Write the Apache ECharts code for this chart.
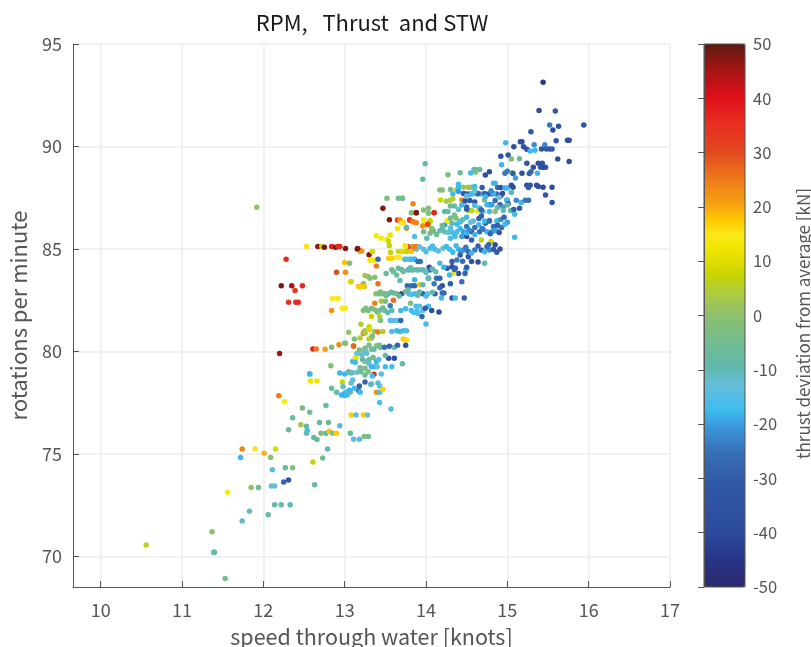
<!DOCTYPE html>
<html><head><meta charset="utf-8">
<style>html,body{margin:0;padding:0;background:#fff}#c{width:811px;height:647px}</style>
<script src="https://cdn.jsdelivr.net/npm/echarts@6/dist/echarts.min.js"></script></head>
<body><div id="c"></div>
<script>
const xTicks=[10,11,12,13,14,15,16,17];
const yTicks=[70,75,80,85,90,95];
const barTicks=[-50,-40,-30,-20,-10,0,10,20,30,40,50];
const palette=['#2a2a6e','#2a2e78','#263488','#2a4092','#2d4a9c','#2e4ea0','#2f52a2','#3056a4','#325ca8','#3466ae','#3672b8','#3a86cc','#3c9ce0','#3cbcee','#52bde4','#68c0d6','#5fb8b2','#68ba9e','#72bc90','#7ebe7e','#8cc06e','#a0c654','#b4ce30','#c8d400','#e0dc00','#f2e600','#fbe81a','#ffc800','#f8a810','#f29014','#ee7a18','#e8621c','#e24a20','#e63c20','#e83020','#e62020','#e0101a','#c41218','#a81414','#841812','#5e1a10'];

const speedA=[15.44,15.39,15.59,15.52,15.63,15.56,15.94,15.29,15.6,15.74,15.76,14.98,15.16,15.18,15.33,15.46];
const rpmA=[93.13,91.75,91.73,91.05,90.98,90.8,91.05,90.72,90.28,90.3,90.3,90.18,90.23,90.23,90.08,90.08];
const thrustA=[-44,-38,-32,-24,-35,-38,-34,-32,-32,-36,-36,-18,-38,-36,-22,-22];
const speedB=[15.08,15.2,15.24,15.28,15.34,15.42,15.48,15.52,15.55,14.92,15.01,15.05,15.15,15.24,15.62,15.76,14.93,15.38,15.43];
const rpmB=[89.99,89.99,89.86,89.78,89.81,89.88,89.88,89.88,89.88,89.52,89.58,89.39,89.4,89.18,89.39,89.26,89.11,89.18,89.18];
const thrustB=[-36,-38,-36,-18,-18,-34,-30,-32,-30,-36,-32,-2,-6,-32,-36,-38,-18,-38,-36];
const speedC=[15.32,15.41,15.44,15.47,15.0,14.97,15.06,15.07,14.78,14.73,15.18,15.29,15.27,15.37,15.1,14.61,14.66,14.59,14.61,14.55,14.42,14.27,13.99,13.96,13.71,13.84];
const rpmC=[88.99,88.99,88.99,88.99,88.79,88.69,88.72,88.68,88.76,88.61,88.69,88.77,88.68,88.69,88.46,88.88,88.88,88.88,88.75,88.71,88.72,88.62,89.16,88.4,87.47,87.2];
const thrustC=[-36,-36,-38,-36,-24,-24,-2,-30,-38,-36,-36,-26,-28,-18,-20,-9,-9,-8,-3,-17,-6,-3,-9,-8,-7,24];
const speedD=[14.4,14.46,14.52,14.56,14.6,14.69,14.83,14.85,14.88,14.92,14.97,15.0,15.05,15.07,15.24,15.28,15.26,15.36,15.38,15.44,15.55,14.17,14.2,14.3,14.37,14.4];
const rpmD=[88.15,88.01,88.01,88.01,88.05,88.0,88.2,88.2,88.0,88.0,87.97,87.97,88.11,88.01,88.11,88.11,88.0,88.11,88.05,88.01,88.01,87.88,87.88,87.9,87.88,88.01];
const thrustD=[-17,2,3,0,-17,-30,-18,-18,-26,-36,-19,-18,-36,-38,-38,-36,-30,-38,-36,-38,-38,-3,-2,-5,6,-17];
const speedE=[14.33,14.44,14.18,14.25,14.3,14.33,14.49,14.53,14.56,14.63,14.68,14.77,14.82,14.87,14.92,15.0,15.05,15.11,15.17,15.22,15.26,15.47,15.55];
const rpmE=[87.68,87.39,87.39,87.33,87.37,87.45,87.68,87.68,87.68,87.68,87.68,87.68,87.68,87.68,87.6,87.37,87.75,87.37,87.27,87.37,87.37,87.63,87.27];
const thrustE=[-17,23,8,3,4,5,-28,-30,-17,-11,-11,-30,-26,-28,-38,-18,-10,-22,-18,-24,-26,-34,-34];
const speedF=[13.88,13.8,13.84,13.88,13.97,14.05,13.97,14.03,13.7,13.76,14.27,14.1];
const rpmF=[86.77,86.41,86.33,86.28,86.41,86.38,86.17,86.17,86.3,86.01,86.36,86.77];
const thrustF=[47,30,25,24,13,8,15,8,7,23,15,28];
const speedG=[13.86,13.97,14.05,14.09,14.17,14.23,14.31,14.38,14.46,14.56,14.66,14.75,14.81,14.87,14.23,14.32,14.42,14.5,14.73,14.78,14.83];
const rpmG=[85.6,85.84,85.76,85.88,85.88,85.84,85.84,85.84,85.84,85.84,85.84,85.84,85.84,85.88,86.17,86.25,86.33,86.09,86.25,86.38,86.09];
const thrustG=[-15,-4,-3,-7,-8,-11,-17,-16,-20,-28,-26,-18,-22,-17,-20,-8,-10,-24,-28,-34,-26];
const speedH=[14.01,14.3,14.36,14.44,14.5,14.56,14.68,14.8,14.85,14.77];
const rpmH=[85.52,85.52,85.6,85.6,85.6,85.44,85.44,85.36,85.2,85.2];
const thrustH=[-10,-16,-14,-20,-36,-30,6,8,-38,-28];
const speedI=[13.74,13.78,13.86,13.7,13.76,13.82,13.88,13.97,14.05,14.11,14.21,14.29,14.4,14.46,14.52,14.6,14.68,14.78,14.83,14.91];
const rpmI=[85.16,85.1,85.07,84.87,84.87,84.87,84.98,84.98,85.03,84.98,85.03,84.98,84.98,84.95,84.87,84.95,84.95,84.95,84.98,85.0];
const thrustI=[14,35,32,14,12,18,-12,-14,-17,-17,-12,-17,-18,-22,-26,-24,-30,-22,-32,-34];
const speedJ=[13.74,13.8,13.86,13.93,14.32,14.38,14.52,14.56,14.64,14.72,14.17];
const rpmJ=[84.49,84.49,84.49,84.38,84.38,84.46,84.62,84.38,84.36,84.3,84.3];
const thrustJ=[-18,-18,-17,-24,-30,-24,-32,-34,-38,-9,-16];
const speedK=[13.78,13.84,13.9,13.97,14.04,14.05,14.32,14.36,14.26,14.4,14.34,14.49,14.22,14.29,14.13,14.03,14.17,14.2];
const rpmK=[83.97,83.97,83.97,83.97,84.1,83.97,84.13,84.05,84.05,83.8,83.8,84.0,84.1,83.73,83.57,83.57,83.57,83.2];
const thrustK=[-10,-8,-8,-10,-36,-26,-36,-32,-34,-38,14,-17,-18,-18,-26,-30,-28,-36];
const speedM=[13.52,13.66,13.71,13.47,13.55,13.65,13.68,13.72,13.7,13.8,13.84,13.65,13.76,13.82,13.88,13.97,14.03,14.03,14.1,13.97,14.05,13.96,14.02,14.07];
const rpmM=[87.47,87.47,87.47,86.99,86.42,86.41,86.41,86.3,86.25,86.41,86.33,86.0,86.06,86.77,86.77,86.9,86.98,86.74,86.77,86.42,86.33,86.12,86.2,86.0];
const thrustM=[-3,-6,-5,48,48,34,22,17,15,35,24,13,-9,-2,48,-1,-2,-3,37,14,7,23,31,-2];
const speedN=[13.39,13.45,13.52,13.56,13.54,13.55,13.155,13.19,13.21,13.3,13.34,13.565,13.66,13.7,13.76,13.75,13.84,13.88];
const rpmN=[85.64,85.52,85.47,85.68,85.36,85.15,85.0,84.9,84.9,84.71,84.87,84.82,84.87,84.87,84.87,85.12,85.12,85.12];
const thrustN=[13,14,14,12,8,7,48,24,22,47,9,7,9,10,7,15,24,25];
const speedO=[13.31,13.36,13.41,13.39,13.54,13.58,13.64,13.68,13.76,13.82,13.86,13.9,13.25,13.29,13.37,13.31,13.07,13.23,13.19,13.24,13.41,13.51,13.58,13.7,13.64,13.78,13.88,13.94,13.82];
const rpmO=[84.45,84.45,84.5,84.17,84.55,84.55,84.58,84.58,84.5,84.5,84.5,84.38,83.7,83.65,83.62,83.57,83.4,83.3,83.16,83.16,83.3,83.8,83.98,84.0,83.73,83.98,83.98,83.98,83.98];
const thrustO=[14,14,-28,25,17,17,15,15,-15,-17,-17,-26,3,1,0,-2,13,-3,22,18,26,-8,-7,-8,-6,-10,-9,-10,-10];
const speedP=[13.68,13.86,13.77,13.82,13.86,13.92,13.78,13.96,14.03,14.1,14.17,14.22];
const rpmP=[83.46,83.49,83.2,83.2,83.2,83.25,83.0,83.25,83.57,83.3,83.1,82.85];
const thrustP=[-11,-18,-26,-26,-28,18,-9,-10,-9,-24,-28,-30];
const speedQ=[13.385,13.43,13.47,13.495,13.54,13.6,13.64,13.7,13.79,13.82,13.865,13.96,14.02,14.11,14.19,14.2,14.32,14.36];
const rpmQ=[82.81,82.81,82.81,82.81,82.81,82.85,82.81,82.81,82.81,82.78,82.81,82.81,82.81,82.81,82.6,82.85,82.6,82.6];
const thrustQ=[-1,-4,-3,-6,-5,-5,-6,-38,-17,-15,-17,-30,-13,-32,-17,-26,-32,-17];
const speedR=[13.37,13.45,13.5,13.6,13.56,13.81,13.23,13.29,13.33,13.37,13.43,13.495,13.58,13.69,13.82,13.88,13.92,13.89,13.96,14.07,14.16,14.03,13.95,13.9];
const rpmR=[82.35,82.44,82.44,82.5,82.22,82.35,82.0,82.0,82.1,82.03,82.0,82.0,82.0,82.0,82.0,82.2,82.2,81.95,82.0,82.0,81.92,82.2,81.7,81.85];
const thrustR=[24,4,-3,26,-24,-2,-2,-3,-4,-2,-6,-8,-9,-17,-18,-17,-14,-17,-14,-36,-40,-17,-28,-16];
const speedS=[13.33,13.43,13.44,13.56,13.6,13.64,13.69,14.0,13.2,13.05,13.12,13.19,13.24,13.25,13.3,13.31,13.37,13.41,13.47,13.23,13.58,13.64,13.68,13.72,13.76,13.72,13.76,13.33];
const rpmS=[81.7,81.7,81.5,81.5,81.5,81.5,81.5,81.33,81.32,80.93,80.6,80.65,80.97,81.0,81.2,81.05,80.97,80.94,80.97,80.87,80.97,81.0,80.97,81.0,81.0,80.6,80.55,80.65];
const thrustS=[7,6,-3,-15,-14,-14,-28,-17,5,1,-2,5,1,3,8,10,3,25,5,24,-15,-17,-18,-16,-16,17,16,-8];
const speedT=[13.0,13.11,13.39,13.43,13.44,13.49,13.55,13.61,13.65,13.75,13.18,13.24,13.25,13.33,13.15,13.21,13.27,13.14,13.1];
const rpmT=[80.4,80.27,80.27,80.3,80.19,80.2,80.25,80.19,80.3,80.3,80.07,80.07,80.15,80.1,79.9,79.83,79.9,79.67,79.5];
const thrustT=[-5,24,-3,-3,-5,-26,-28,-9,-28,-36,-3,-2,-1,-3,-14,-12,-13,11,-18];
const speedU=[13.54,13.61,13.5,13.71,13.25,13.13,13.13,13.39,13.19,13.25,13.29,13.33,13.37,13.4,13.5,13.58,13.36,13.05,13.08,13.15,13.25,13.0];
const rpmU=[79.66,79.66,79.8,79.39,79.5,79.67,79.47,79.5,79.2,79.17,79.0,79.25,79.25,79.25,79.25,79.25,78.88,79.0,78.95,78.98,78.85,78.9];
const thrustU=[-38,-36,-9,-7,0,12,-17,-18,-5,-4,-2,-18,-18,-12,-17,-17,37,-10,-9,-12,-5,-17];
const speedV=[12.97,13.25,13.33,13.41,13.43,13.18,13.17,13.19,13.39,13.43,13.47,13.07,13.0,13.0,13.43,13.57,13.1,12.98,13.02];
const rpmV=[78.5,78.5,78.41,78.45,78.31,78.31,78.09,78.0,78.0,78.0,78.15,78.0,77.95,77.85,77.5,77.19,78.6,78.27,78.0];
const thrustV=[8,-28,-16,-15,-14,-28,-25,-18,22,-15,17,-1,-17,-17,-15,-15,-14,-12,-16];
const speedW=[13.08,13.14,13.23,13.28,13.07,13.11,13.18,13.24,13.29];
const rpmW=[76.9,76.9,76.9,76.9,76,75.71,75.71,75.84,75.84];
const thrustW=[17,-14,17,-13,-8,-14,-15,-2,-4];
const speedX=[12.57,12.94,13.05,13.09,12.58,12.66,12.84,12.9,12.96,13.0,13.03,12.19,12.26,12.77,12.48,12.57,12.36,12.46,12.53,12.69,12.8,12.94,12.31,12.53,12.54,12.71,12.77,12.81,12.85,12.9,12.62,12.66];
const rpmX=[78.9,78.94,78.98,78.95,78.55,78.55,78.2,78,77.87,77.87,77.87,77.83,77.54,77.36,77.23,77.03,76.76,76.42,76.34,76.53,76.53,76.37,76.17,76,76.14,76,76,76.1,76,76,75.8,75.7];
const thrustX=[-18,-18,-9,-11,12,12,-8,-9,-18,-18,-17,25,15,-8,-4,-6,-7,3,-7,-8,-7,-15,-6,-6,-17,-3,-7,18,-2,17,-8,-8];
const speedY=[12.79,11.74,11.9,12.01,12.15,11.72,12.09,12.73,12.61,12.11,12.27,12.36,12.25,12.31,12.63,12.1,12.14,11.85,11.94];
const rpmY=[75.23,75.23,75.23,75.03,75.23,74.82,74.82,74.79,74.6,74.22,74.32,74.32,73.62,73.72,73.49,73.43,73.43,73.36,73.36];
const thrustY=[-10,24,14,19,9,-18,-1,-4,7,-14,-8,-2,-28,-34,-8,-12,-12,1,-6];
const speedZ=[11.56,12.14,12.22,12.33,11.83,12.06,11.74,11.37,10.56,11.39,11.4,11.53];
const rpmZ=[73.12,72.51,72.51,72.51,72.2,72.03,71.72,71.2,70.55,70.2,70.2,68.92];
const thrustZ=[14,-9,-9,-10,-11,-10,-11,0,6,-9,-9,-4];
const speedAA=[11.92,12.53,12.67,12.72,12.75,12.84,12.89,12.94,12.92,13.01,13.16,12.28,13.0,13.06,12.9,13.01,13.08,12.22,12.35,12.48,12.39,12.31,12.4,12.43,13.17,13.2,12.85,12.91,12.92,12.84,12.97,13.01,12.2,12.61,12.65,12.76,12.84,12.93,13.01,13.11,12.83,12.57];
const rpmAA=[87.03,85.12,85.12,85.12,85.08,85.12,85.08,85.12,85.12,85.02,85.02,84.5,84.34,84.3,83.86,83.86,83.41,83.2,83.2,83.2,82.97,82.4,82.4,82.4,83.16,83.16,82.58,82.58,82.58,82,82.1,82.1,79.9,80.11,80.11,80.1,80.2,80.32,80.4,80.25,79.3,78.9];
const thrustAA=[1,14,47,8,49,38,49,37,36,48,48,36,18,-2,30,23,9,48,45,36,33,35,36,36,18,17,15,15,15,22,15,15,46,38,25,21,-2,23,0,27,-2,-18];
const speedAB=[14.46,14.58,14.64,14.72,14.83,14.94,14.48,14.54,14.6,14.72,14.85,14.99,14.78,14.91,15.01,14.95,14.52,14.56,14.63,14.7,14.78,14.85,14.95,15.04,15.15,14.23,14.27,14.35,14.26,14.58,14.72,14.78,14.87,14.35,14.37,14.42,15.09,15.09,14.5,14.66,14.81];
const rpmAB=[87.71,87.71,87.71,87.71,87.71,87.71,87.34,87.36,87.29,87.39,87.36,87.39,87.15,87.15,87.2,87.05,86.87,86.87,86.85,86.82,86.82,86.82,86.87,86.87,86.98,86.82,86.82,87.1,86.37,86.36,86.36,86.36,86.37,86.66,86.5,86.33,86.69,85.57,87.05,87.0,87.15];
const thrustAB=[-30,-17,-28,-28,-18,-38,-36,-32,-34,-3,-26,-17,-28,-28,-30,-20,7,6,14,-12,-17,0,-9,-9,-30,-10,-10,-9,14,-11,-17,-26,-17,-2,-2,-17,-17,-17,-26,-18,-20];
const speedAC=[14.13,14.2,14.27,14.35,14.42,14.5,14.53,14.6,14.7,14.79,14.84,14.9,13.92,14.0,14.08,14.15,14.25,14.33,14.37,14.43,14.49,14.56,14.64,14.72,14.75,14.87];
const rpmAC=[85.7,85.95,85.8,85.72,85.98,85.78,85.92,85.7,85.96,85.74,85.9,85.8,85.1,84.86,85.14,84.9,85.12,84.84,85.16,84.88,85.08,84.8,85.14,84.86,85.1,84.84];
const thrustAC=[-6,-9,-12,-17,-18,-18,-22,-18,-24,-28,-20,-30,-13,-15,-16,-14,-17,-18,-17,-20,-24,-18,-28,-18,-26,-30];
const speedAD=[13.6,13.66,13.72,13.81,14.0,14.08,14.12,14.3,14.45,14.5,14.55,14.65,14.68,14.92,14.96,15.0,14.2,14.3,14.38,14.6,14.65,14.69,14.88,14.93,14.97];
const rpmAD=[83.88,84.05,83.9,84.08,83.85,84.02,83.88,86.5,86.42,86.55,86.3,86.48,86.6,86.44,86.55,86.3,86.14,86.02,86.2,86.05,86.18,86.0,86.16,86.04,86.2];
const thrustAD=[-6,-7,-8,-9,-11,-10,-9,-6,-8,-17,-12,-28,-30,-22,-28,-20,-6,-14,-17,-26,-18,-24,-30,-26,-18];
const speedAE=[14.4,14.5,14.6,14.73,14.8,14.9,14.3,14.4,14.44,14.5,14.6,14.68,14.75,14.88,15.0,15.08];
const rpmAE=[87.8,87.58,87.82,87.55,87.84,87.52,87.1,86.92,87.14,86.94,87.12,86.9,87.16,87.02,87.14,86.92];
const thrustAE=[-20,-14,-12,-18,-22,-12,-7,-12,-18,-30,-16,-28,-18,-10,-6,-28];
const speedAF=[13.44,13.51,13.57,13.67,13.75,13.9,13.92,14.0,14.08,13.26,13.4,13.47,13.53,13.75,13.85,13.99];
const rpmAF=[82.9,82.72,82.88,82.7,82.92,82.74,82.9,82.7,82.88,82.1,81.92,82.12,81.9,82.08,81.9,82.1];
const thrustAF=[-2,-5,-8,-7,-6,-8,-8,-16,-10,-3,-3,-7,-9,-17,-16,-30];
const speedAG=[13.25,13.3,13.34,13.3,13.36,13.26,13.22,13.3,13.35,13.42,13.3,13.2,13.34,13.45,13.32,13.08,13.12,13.06];
const rpmAG=[80.9,80.6,80.75,80.3,80.1,80.0,79.6,79.6,79.7,79.6,79.4,79.0,78.8,78.9,78.4,78.45,78.2,78.1];
const thrustAG=[4,6,-3,-5,-8,-12,-10,-8,-6,-15,-14,-6,-17,-14,-10,-12,-17,-18];
const speedAH=[14.42,14.45,14.5,14.48,14.44,14.3,14.47,14.35];
const rpmAH=[84.7,84.4,84.1,83.8,83.4,83.3,82.6,84.0];
const thrustAH=[-30,-26,-30,-28,-26,-30,-30,-28];

const groups={A:[speedA,rpmA,thrustA],B:[speedB,rpmB,thrustB],C:[speedC,rpmC,thrustC],D:[speedD,rpmD,thrustD],E:[speedE,rpmE,thrustE],F:[speedF,rpmF,thrustF],G:[speedG,rpmG,thrustG],H:[speedH,rpmH,thrustH],I:[speedI,rpmI,thrustI],J:[speedJ,rpmJ,thrustJ],K:[speedK,rpmK,thrustK],M:[speedM,rpmM,thrustM],N:[speedN,rpmN,thrustN],O:[speedO,rpmO,thrustO],P:[speedP,rpmP,thrustP],Q:[speedQ,rpmQ,thrustQ],R:[speedR,rpmR,thrustR],S:[speedS,rpmS,thrustS],T:[speedT,rpmT,thrustT],U:[speedU,rpmU,thrustU],V:[speedV,rpmV,thrustV],W:[speedW,rpmW,thrustW],X:[speedX,rpmX,thrustX],Y:[speedY,rpmY,thrustY],Z:[speedZ,rpmZ,thrustZ],AA:[speedAA,rpmAA,thrustAA],AB:[speedAB,rpmAB,thrustAB],AC:[speedAC,rpmAC,thrustAC],AD:[speedAD,rpmAD,thrustAD],AE:[speedAE,rpmAE,thrustAE],AF:[speedAF,rpmAF,thrustAF],AG:[speedAG,rpmAG,thrustAG],AH:[speedAH,rpmAH,thrustAH]};
const points=[];
for(const k in groups){const [s,r,t]=groups[k];
  if(s.length!==r.length||s.length!==t.length)throw new Error('length mismatch '+k+' '+s.length+' '+r.length+' '+t.length);
  s.forEach((v,i)=>points.push([v,r[i],t[i]]));}

const font='"Noto Sans CJK SC","Noto Sans",sans-serif';
const chart=echarts.init(document.getElementById('c'),null,{renderer:'canvas'});
const line={lineStyle:{color:'#555',width:1}};
chart.setOption({
  animation:false,backgroundColor:'#fff',
  title:{text:'RPM,   Thrust  and STW',left:367,top:7,textAlign:'center',textStyle:{fontFamily:font,fontSize:22,fontWeight:'normal',color:'#1a1a1a'}},
  grid:[{left:73,right:141,top:44,bottom:60,outerBoundsMode:'none'},{left:704,right:66,top:44,bottom:60,outerBoundsMode:'none',show:true,z:10,borderColor:'#555',borderWidth:1,backgroundColor:'transparent'}],
  xAxis:[{gridIndex:0,type:'value',min:9.66,max:17,name:'speed through water [knots]',nameLocation:'middle',nameGap:39,
    nameTextStyle:{fontFamily:font,fontSize:21.5,color:'#555'},
    axisLine:{show:true,onZero:false,...line},axisTick:{show:true,inside:true,length:6,customValues:xTicks,...line},
    axisLabel:{customValues:xTicks,fontFamily:font,fontSize:18,color:'#555',margin:14},
    splitLine:{show:true,lineStyle:{color:'#ececec',width:1.5}}},
    {gridIndex:1,type:'value',min:0,max:1,show:false}],
  yAxis:[{gridIndex:0,type:'value',min:68.5,max:95,name:'rotations per minute',nameLocation:'middle',nameGap:43,
    nameTextStyle:{fontFamily:font,fontSize:22,color:'#555'},
    axisLine:{show:true,onZero:false,...line},axisTick:{show:true,inside:true,length:6,customValues:yTicks,...line},
    axisLabel:{customValues:yTicks,fontFamily:font,fontSize:18,color:'#555',margin:11},
    splitLine:{show:true,lineStyle:{color:'#ececec',width:1.5}}},
    {gridIndex:1,type:'value',position:'right',min:-50,max:50,z:10,name:'thrust deviation from average [kN]',nameLocation:'middle',nameGap:50,nameRotate:90,
    nameTextStyle:{fontFamily:font,fontSize:17,color:'#555',padding:[0,16,0,0]},
    axisLine:{show:true,...line},axisTick:{show:true,inside:true,length:6,customValues:barTicks,...line},
    axisLabel:{customValues:barTicks,fontFamily:font,fontSize:16.5,color:'#555',margin:8},
    splitLine:{show:false}}],
  visualMap:{type:'continuous',min:-50,max:50,dimension:2,seriesIndex:0,left:704,top:44,itemWidth:41,itemHeight:543,padding:0,calculable:false,hoverLink:false,showLabel:false,inRange:{color:palette}},
  series:[{type:'scatter',xAxisIndex:0,yAxisIndex:0,symbolSize:5.5,data:points,itemStyle:{opacity:1},clip:true}]
});
</script></body></html>
